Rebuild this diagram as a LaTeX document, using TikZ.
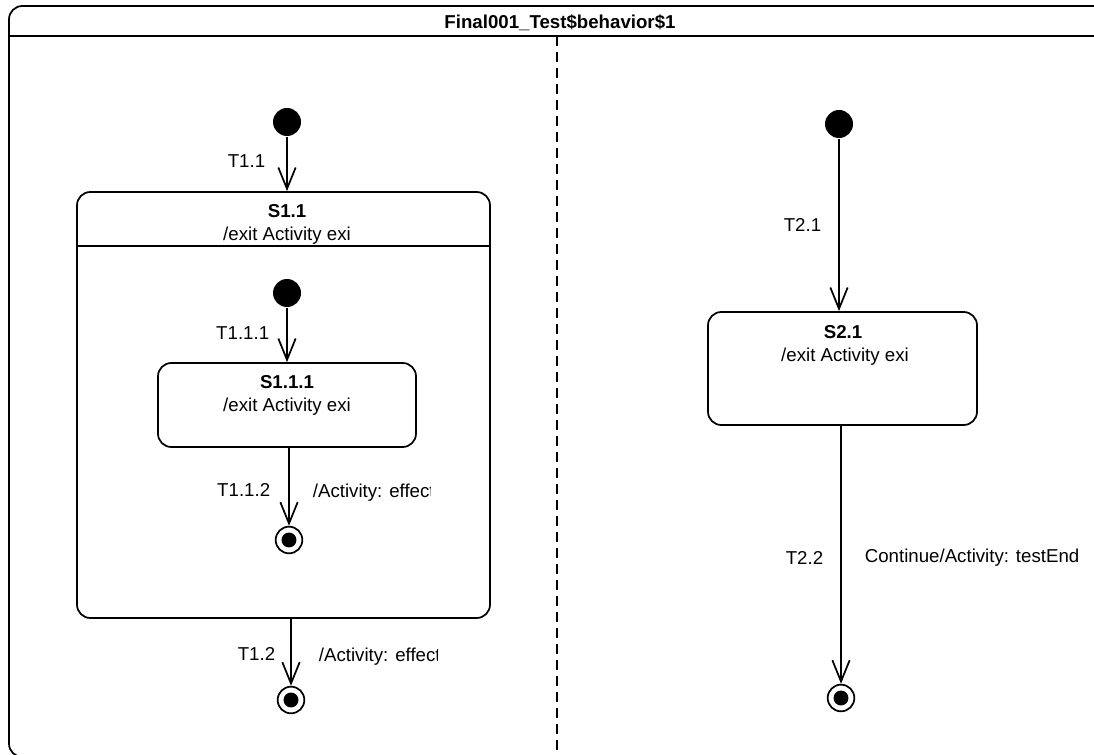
\documentclass[tikz,border=0pt]{standalone}
\usepackage{fontspec}
\setmainfont{Liberation Sans}
\usetikzlibrary{arrows.meta}

\tikzset{every picture/.style={line width=1.3pt}}
\tikzset{
  initst/.style={circle,fill=black,inner sep=0pt,minimum size=21pt},
  finalst/.style={circle,draw,inner sep=0pt,minimum size=20pt,
    path picture={\fill (path picture bounding box.center) circle (5.6pt);}},
  statebox/.style={draw,rounded corners=10pt,inner sep=0pt},
  trans/.style={-{Straight Barb[length=16pt,width=13pt]}},
  lbl/.style={inner sep=0pt,font=\fontsize{14}{17}\selectfont},
  namelbl/.style={lbl,font=\fontsize{14}{17}\selectfont\bfseries},
}

\begin{document}
\begin{tikzpicture}[x=0.75pt,y=0.75pt,yscale=-1,xscale=1]

\useasboundingbox (0,0) rectangle (1094,755);
\clip (0,0) rectangle (1094,755);

% frame of the behaviour
\draw [rounded corners=10pt] (1110,6) -- (9,6) -- (9,757) -- (1110,757) ;
\draw (9,36) -- (1110,36) ;
\draw [dash pattern=on 7.5pt off 4.5pt] (557,36) -- (557,760) ;
\node [namelbl] (title) at (560,23) {Final001\_Test\$behavior\$1};

% left region
\node [initst] (i1) at (287,122) {};
\node [statebox,minimum width=309.75pt,minimum height=319.5pt] (s11) at (283.5,405) {};
\node [namelbl] (s11name) at (287,211) {S1.1};
\node [lbl] (s11exit) at (287,236) {/exit Activity exi};
\draw (s11.west |- 0,246) -- (s11.east |- 0,246) ;

\node [initst] (i2) at (287,293) {};
\node [statebox,minimum width=193.5pt,minimum height=63pt] (s111) at (287,405) {};
\node [namelbl] (s111name) at (287,382) {S1.1.1};
\node [lbl] (s111exit) at (287,407) {/exit Activity exi};
\node [finalst] (f1) at (289,540) {};
\node [finalst] (f2) at (291,700) {};

\draw [trans] (i1) -- (i1 |- s11.north) ;
\draw [trans] (i2) -- (i2 |- s111.north) ;
\draw [trans] (f1 |- s111.south) -- (f1) ;
\draw [trans] (f2 |- s11.south) -- (f2) ;

\node [lbl,anchor=east] (t11) at (266,161) {T1.1};
\node [lbl,anchor=east] (t111) at (270,333) {T1.1.1};
\node [lbl,anchor=east] (t112) at (271,490) {T1.1.2};
\node [lbl,anchor=east] (t12) at (276,654) {T1.2};
\begin{scope}
\clip (300,470) rectangle (430,515);
\node [lbl,anchor=west] (e112) at (312,493) {/Activity: effect};
\end{scope}
\begin{scope}
\clip (300,635) rectangle (437,680);
\node [lbl,anchor=west] (e12) at (318,657) {/Activity: effect};
\end{scope}

% right region
\node [initst] (i3) at (839,124) {};
\node [statebox,minimum width=201.75pt,minimum height=84.75pt] (s21) at (842.5,368.5) {};
\node [namelbl] (s21name) at (843,332) {S2.1};
\node [lbl] (s21exit) at (845,357) {/exit Activity exi};
\node [finalst] (f3) at (841,698) {};

\draw [trans] (i3) -- (i3 |- s21.north) ;
\draw [trans] (f3 |- s21.south) -- (f3) ;

\node [lbl,anchor=east] (t21) at (822,225) {T2.1};
\node [lbl,anchor=east] (t22) at (824,558) {T2.2};
\node [lbl,anchor=west] (e22) at (864,558) {Continue/Activity: testEnd};

\end{tikzpicture}
\end{document}
